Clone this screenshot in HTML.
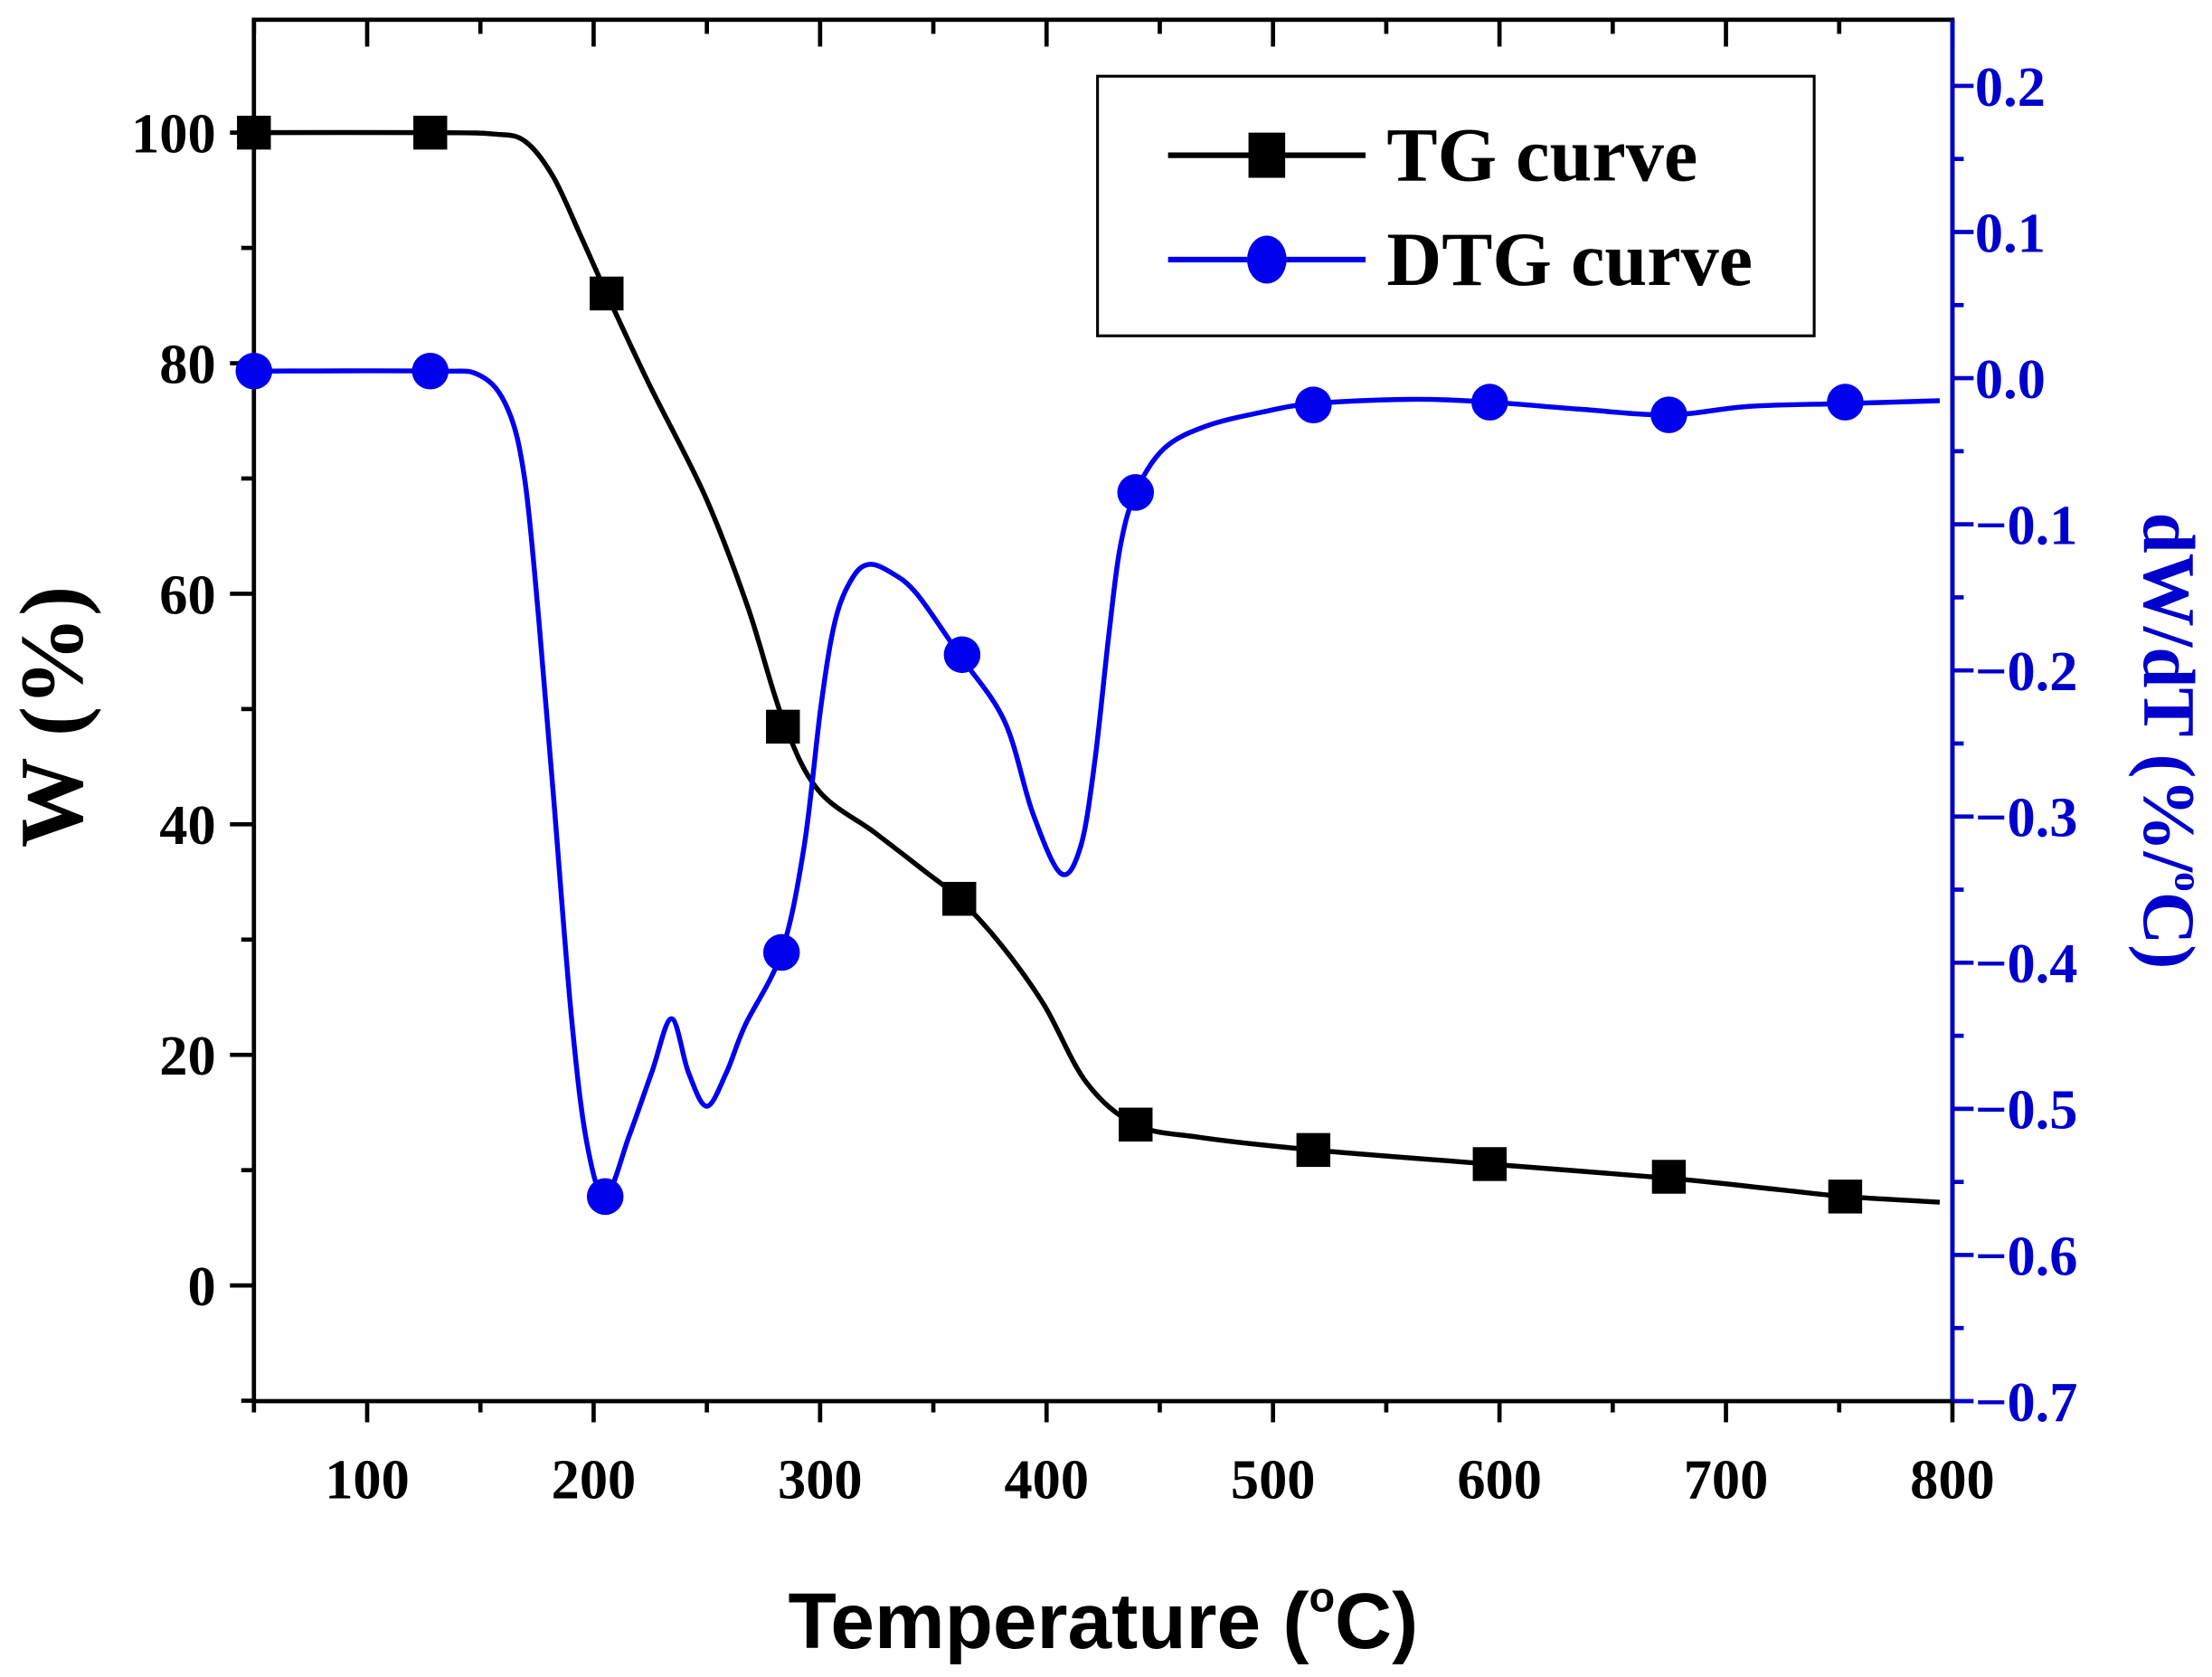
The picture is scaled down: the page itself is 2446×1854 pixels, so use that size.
<!DOCTYPE html>
<html><head><meta charset="utf-8"><style>html,body{margin:0;padding:0;background:#fff}svg{display:block}</style></head>
<body>
<svg id="s" width="2446" height="1854" viewBox="0 0 1568 1188.5" preserveAspectRatio="none" xmlns="http://www.w3.org/2000/svg">
<rect width="1568" height="1189" fill="#fff"/>
<g id="ticks"></g>
<rect x="180" y="14" width="1204" height="979" fill="none" stroke="#000" stroke-width="3"/>
<line x1="1384" y1="14" x2="1384" y2="993" stroke="#0000cc" stroke-width="3"/>
<path id="tg" fill="none" stroke="#000" stroke-width="3.5"/>
<path id="dtg" fill="none" stroke="#0000ee" stroke-width="3.5"/>
<g id="mk"></g>
<rect x="778" y="54" width="508" height="184" fill="#fff" stroke="#000" stroke-width="2"/>
<line x1="828" y1="110" x2="968" y2="110" stroke="#000" stroke-width="4"/>
<rect x="885" y="94" width="26" height="32" fill="#000"/>
<line x1="828" y1="184" x2="968" y2="184" stroke="#0000ee" stroke-width="4"/>
<ellipse cx="898" cy="184" rx="14" ry="17" fill="#0000ee"/>
<text x="983" y="128" font-family="Liberation Serif" font-weight="bold" font-size="54">TG curve</text>
<text x="983" y="202" font-family="Liberation Serif" font-weight="bold" font-size="54">DTG curve</text>
<text x="782" y="1168" text-anchor="middle" font-family="Liberation Sans" font-weight="bold" font-size="56">Temperature (<tspan font-size="30" dy="-26">o</tspan><tspan dy="26">C)</tspan></text>
<text transform="translate(58,508) rotate(-90)" text-anchor="middle" font-family="Liberation Serif" font-weight="bold" font-size="64">W (%)</text>
<text transform="translate(1520,525) rotate(90)" text-anchor="middle" fill="#0000cc" font-family="Liberation Serif" font-weight="bold" font-size="52">dW/dT (%/<tspan font-size="28" dy="-22">o</tspan><tspan dy="22">C)</tspan></text>
</svg>
<script>
var NS="http://www.w3.org/2000/svg";
function el(p,t,a,txt){var e=document.createElementNS(NS,t);for(var k in a)e.setAttribute(k,a[k]);if(txt!=null)e.textContent=txt;p.appendChild(e);return e;}
var T=document.getElementById('ticks');
var F={"font-family":"Liberation Serif","font-weight":"bold","font-size":"40"};
function X(v){return 180+(v-50)*1204/750;}
for(var v=50;v<=800;v+=50){var x=X(v);var maj=v%100==0;el(T,'line',{x1:x,y1:993,x2:x,y2:maj?1008:1001,stroke:'#000','stroke-width':3});
 el(T,'line',{x1:x,y1:14,x2:x,y2:maj?33:24,stroke:'#000','stroke-width':3});
 if(maj){var a=Object.assign({x:x,y:1062,'text-anchor':'middle'},F);el(T,'text',a,v);}}
function YL(v){return 911-v*8.17;}
for(var v=-10;v<=110;v+=10){var y=YL(v);if(y<14)continue;var maj=v%20==0;el(T,'line',{x1:maj?163:171,y1:y,x2:180,y2:y,stroke:'#000','stroke-width':3});
 if(maj&&v>=0&&v<=100){var a=Object.assign({x:153,y:y+14,'text-anchor':'end'},F);el(T,'text',a,v);}}
function YR(v){return 268-v*1035.7;}
for(var i=-14;i<=5;i++){var v=i/20,y=YR(v);if(y<14)continue;var maj=i%2==0;el(T,'line',{x1:1384,y1:y,x2:maj?1399:1392,y2:y,stroke:'#0000cc','stroke-width':3});
 if(maj){var s=(v<-1e-9?'\u2212':'')+Math.abs(v).toFixed(1);var a=Object.assign({x:1400,y:y+14,fill:'#0000cc'},F);el(T,'text',a,s);}}
function cr(p){var d='M'+p[0][0]+','+p[0][1];for(var i=0;i<p.length-1;i++){var p0=p[i-1]||p[i],p1=p[i],p2=p[i+1],p3=p[i+2]||p2;
 d+=' C'+(p1[0]+(p2[0]-p0[0])/6)+','+(p1[1]+(p2[1]-p0[1])/6)+' '+(p2[0]-(p3[0]-p1[0])/6)+','+(p2[1]-(p3[1]-p1[1])/6)+' '+p2[0]+','+p2[1];}return d;}
var tg=[[180,94],[305,94],[350,95],[372,100],[392,125],[412,168],[430,208],[460,272],[500,352],[530,430],[555,510],[580,560],[620,590],[655,617],[680,637],[710,670],[740,712],[770,767],[805,797],[850,806],[931,815],[1056,825],[1183,835],[1260,843],[1308,848],[1375,852]];
var dtg=[[180,263],[305,263],[340,266],[360,290],[372,340],[382,440],[392,560],[405,720],[416,810],[429,848],[446,805],[462,760],[476,722],[488,760],[501,784],[515,760],[528,727],[554,675],[570,600],[582,500],[592,440],[604,410],[616,400],[632,406],[650,421],[680,464],[712,511],[732,576],[752,619],[766,600],[776,540],[786,450],[794,388],[805,349],[825,318],[855,302],[895,292],[931,286],[1000,283],[1056,285],[1120,290],[1183,294],[1240,288],[1308,286],[1375,284]];
document.getElementById('tg').setAttribute('d',cr(tg));
document.getElementById('dtg').setAttribute('d',cr(dtg));
var M=document.getElementById('mk');
[[180,94],[305,94],[430,208],[555,515],[680,637],[805,797],[931,815],[1056,825],[1183,834],[1308,848]].forEach(function(p){el(M,'rect',{x:p[0]-12,y:p[1]-12,width:24,height:24,fill:'#000'});});
[[180,263],[305,263],[429,848],[554,675],[682,464],[805,349],[931,287],[1056,285],[1183,294],[1308,285]].forEach(function(p){el(M,'ellipse',{cx:p[0],cy:p[1],rx:13,ry:13,fill:'#0000ee'});});
</script>
</body></html>
